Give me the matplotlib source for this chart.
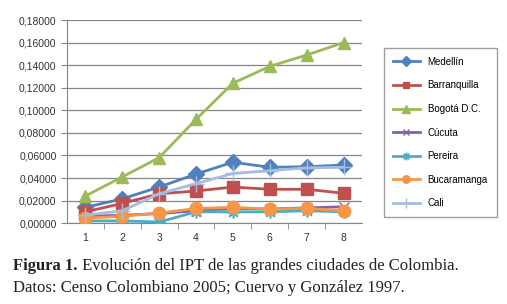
import numpy as np
import matplotlib.pyplot as plt

x = [1, 2, 3, 4, 5, 6, 7, 8]
medellin = [0.0140, 0.0215, 0.0320, 0.0435, 0.0540, 0.0495, 0.0500, 0.0515]
barranquilla = [0.0100, 0.0175, 0.0260, 0.0285, 0.0320, 0.0300, 0.0300, 0.0265]
bogota = [0.0240, 0.0410, 0.0580, 0.0920, 0.1240, 0.1390, 0.1490, 0.1600]
cucuta = [0.0060, 0.0070, 0.0085, 0.0110, 0.0130, 0.0125, 0.0135, 0.0145]
pereira = [0.0020, 0.0020, 0.0010, 0.0100, 0.0100, 0.0100, 0.0110, 0.0100]
bucaramanga = [0.0045, 0.0060, 0.0090, 0.0130, 0.0140, 0.0125, 0.0130, 0.0110]
cali = [0.0070, 0.0110, 0.0260, 0.0350, 0.0440, 0.0465, 0.0490, 0.0495]

series = [
    ("Medellín", medellin, "#4F81BD", "D", 8),
    ("Barranquilla", barranquilla, "#C0504D", "s", 8),
    ("Bogotá D.C.", bogota, "#9BBB59", "^", 9),
    ("Cúcuta", cucuta, "#8064A2", "x", 7),
    ("Pereira", pereira, "#4BACC6", "$\u2733$", 8),
    ("Bucaramanga", bucaramanga, "#F79646", "o", 9),
    ("Cali", cali, "#A7BDE0", "+", 12),
]

plt.rcParams['font.family'] = ['Liberation Sans', 'DejaVu Sans']

fig = plt.figure(figsize=(5.07, 3.04), dpi=100)
ax = fig.add_axes([0.132, 0.266, 0.582, 0.668])

for name, vals, col, mk, ms in series:
    ax.plot(x, vals, color=col, lw=2, marker=mk, markersize=ms,
            markerfacecolor=col, markeredgecolor=col, label=name, zorder=3)

ax.set_xlim(0.5, 8.5)
ax.set_ylim(0, 0.18)
yt = np.arange(0, 0.1801, 0.02)
ax.set_yticks(yt)
ax.set_yticklabels([f"{v:.5f}".replace(".", ",") for v in yt])
ax.set_xticks(x)
ax.set_xticklabels([str(i) for i in x])
ax.set_xticks(np.arange(1.5, 8.5, 1), minor=True)
ax.tick_params(axis='x', which='major', length=0, labelsize=7.5, pad=7, colors='#333333')
ax.tick_params(axis='x', which='minor', length=4, color='#868686')
ax.tick_params(axis='y', length=4, color='#868686', labelsize=7.5, colors='#333333')
ax.grid(axis='y', color='#868686', lw=0.9, zorder=0)
for s in ['top', 'right']:
    ax.spines[s].set_visible(False)
for s in ['left', 'bottom']:
    ax.spines[s].set_color('#868686')

leg = fig.legend(loc='upper left', bbox_to_anchor=(0.757, 0.842), fontsize=7,
                 frameon=True, fancybox=False, edgecolor='#868686',
                 handlelength=2.8, labelspacing=1.4, borderpad=0.9,
                 borderaxespad=0, markerscale=0.6)

# caption
serif = 'Liberation Serif'
t1 = fig.text(0.026, 0.112, "Figura 1.", fontsize=12, family=serif,
              fontweight='bold', color='#222222')
fig.canvas.draw()
ax.annotate(" Evolución del IPT de las grandes ciudades de Colombia.",
            xy=(1, 0), xycoords=t1, fontsize=12, family=serif,
            color='#222222', va='bottom', annotation_clip=False)
fig.text(0.026, 0.038, "Datos: Censo Colombiano 2005; Cuervo y González 1997.",
         fontsize=12, family=serif, color='#222222')

fig.savefig("out.png", dpi=100)
